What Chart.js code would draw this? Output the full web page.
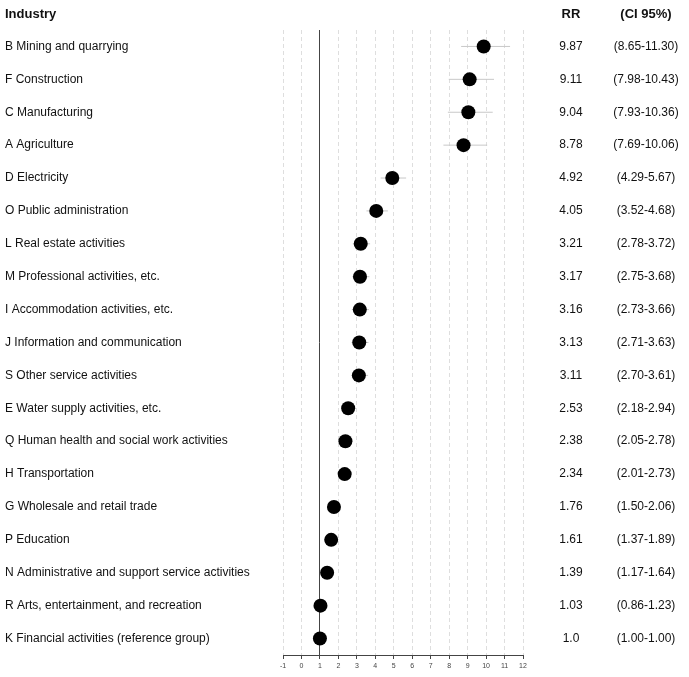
<!DOCTYPE html>
<html>
<head>
<meta charset="utf-8">
<script src="https://cdn.jsdelivr.net/npm/chart.js@4.4.1/dist/chart.umd.min.js"></script>
<style>
  html, body { margin: 0; padding: 0; background: #fff; }
  #wrap { width: 689px; height: 677px; }
</style>
</head>
<body>
<div id="wrap"><canvas id="forest"></canvas></div>
<script>
const industries = [
  "B Mining and quarrying",
  "F Construction",
  "C Manufacturing",
  "A Agriculture",
  "D Electricity",
  "O Public administration",
  "L Real estate activities",
  "M Professional activities, etc.",
  "I Accommodation activities, etc.",
  "J Information and communication",
  "S Other service activities",
  "E Water supply activities, etc.",
  "Q Human health and social work activities",
  "H Transportation",
  "G Wholesale and retail trade",
  "P Education",
  "N Administrative and support service activities",
  "R Arts, entertainment, and recreation",
  "K Financial activities (reference group)"
];
const rr    = [9.87, 9.11, 9.04, 8.78, 4.92, 4.05, 3.21, 3.17, 3.16, 3.13, 3.11, 2.53, 2.38, 2.34, 1.76, 1.61, 1.39, 1.03, 1.0];
const ciLow = [8.65, 7.98, 7.93, 7.69, 4.29, 3.52, 2.78, 2.75, 2.73, 2.71, 2.70, 2.18, 2.05, 2.01, 1.50, 1.37, 1.17, 0.86, 1.00];
const ciHigh= [11.30, 10.43, 10.36, 10.06, 5.67, 4.68, 3.72, 3.68, 3.66, 3.63, 3.61, 2.94, 2.78, 2.73, 2.06, 1.89, 1.64, 1.23, 1.00];
const xMin = -1, xMax = 12;

const FONT = "'Liberation Sans', Arial, sans-serif";

// one small line dataset per row for the CI whiskers
const ciSets = industries.map((name, i) => ({
  type: 'scatter',
  data: [{x: ciLow[i], y: name}, {x: ciHigh[i], y: name}],
  showLine: true,
  borderColor: '#c8c8c8',
  borderWidth: 1,
  pointRadius: 0,
  order: 2
}));

const fmtRR = v => Number.isInteger(v) ? v.toFixed(1) : String(v);

const sideText = {
  id: 'sideText',
  afterDraw(chart) {
    const ctx = chart.ctx;
    const y = chart.scales.y;
    ctx.save();
    ctx.fillStyle = '#111';
    ctx.textBaseline = 'middle';
    ctx.font = 'bold 13px ' + FONT;
    ctx.textAlign = 'left';
    ctx.fillText('Industry', 5, 14);
    ctx.textAlign = 'center';
    ctx.fillText('RR', 571, 14);
    ctx.fillText('(CI 95%)', 646, 14);
    ctx.font = '12px ' + FONT;
    industries.forEach((name, i) => {
      const py = y.getPixelForValue(i);
      ctx.fillText(fmtRR(rr[i]), 571, py);
      ctx.fillText('(' + ciLow[i].toFixed(2) + '-' + ciHigh[i].toFixed(2) + ')', 646, py);
    });
    ctx.restore();
  }
};

new Chart(document.getElementById('forest').getContext('2d'), {
  type: 'scatter',
  data: {
    labels: industries,
    datasets: [
      {
        data: industries.map((name, i) => ({x: rr[i], y: name})),
        backgroundColor: '#000',
        borderWidth: 0,
        pointRadius: 7,
        pointHoverRadius: 7,
        order: 1
      },
      ...ciSets
    ]
  },
  options: {
    responsive: true,
    maintainAspectRatio: false,
    animation: false,
    layout: { padding: { left: 5, right: 166, top: 30, bottom: 0 } },
    plugins: { legend: { display: false }, tooltip: { enabled: false } },
    scales: {
      x: {
        type: 'linear',
        min: xMin,
        max: xMax,
        afterFit: s => { s.height = 22; },
        ticks: {
          stepSize: 1,
          color: '#444',
          font: { family: FONT, size: 7 },
          padding: 3
        },
        grid: {
          color: c => c.tick && c.tick.value === 1 ? '#444' : '#dedede',
          lineWidth: 1,
          tickColor: '#444',
          tickLength: 4,
          tickBorderDash: []
        },
        border: {
          display: true,
          color: '#444',
          width: 1,
          dash: c => c.tick && c.tick.value === 1 ? [] : [4, 3]
        }
      },
      y: {
        type: 'category',
        labels: industries,
        offset: true,
        afterFit: s => { s.width = 278; },
        ticks: {
          crossAlign: 'far',
          color: '#111',
          font: { family: FONT, size: 12 }
        },
        grid: { display: false },
        border: { display: false }
      }
    }
  },
  plugins: [sideText]
});
</script>
</body>
</html>
